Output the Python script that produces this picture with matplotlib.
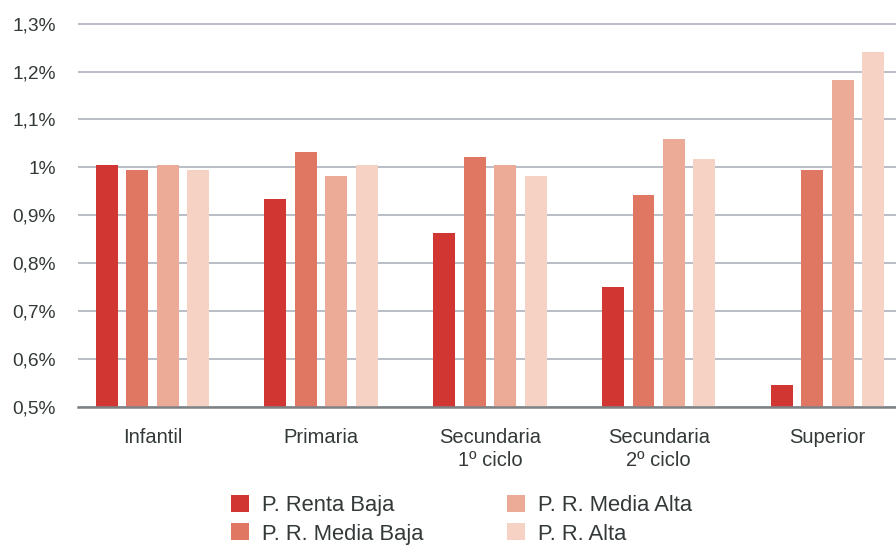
import matplotlib

matplotlib.use("Agg")
import matplotlib.pyplot as plt
from matplotlib.patches import Patch

# data
categories = ["Infantil", "Primaria", "Secundaria\n1º ciclo", "Secundaria\n2º ciclo", "Superior"]
series_names = ["P. Renta Baja", "P. R. Media Baja", "P. R. Media Alta", "P. R. Alta"]
renta_baja = [1.004, 0.933, 0.864, 0.751, 0.546]
media_baja = [0.994, 1.033, 1.021, 0.942, 0.994]
media_alta = [1.004, 0.981, 1.004, 1.060, 1.183]
alta = [0.994, 1.004, 0.981, 1.017, 1.241]
y_ticks = [0.5, 0.6, 0.7, 0.8, 0.9, 1.0, 1.1, 1.2, 1.3]
y_tick_labels = ["0,5%", "0,6%", "0,7%", "0,8%", "0,9%", "1%", "1,1%", "1,2%", "1,3%"]

colors = ["#d13632", "#df7763", "#ecab97", "#f5d2c4"]
text_color = "#333838"

plt.rcParams["font.family"] = ["Liberation Sans", "DejaVu Sans"]

fig = plt.figure(figsize=(8.96, 5.46), dpi=100)
ax = fig.add_axes([78 / 896, 1 - 407 / 546, 1 - 78 / 896, (407 - 14) / 546])

step = 0.1807
width = 0.130
all_series = [renta_baja, media_baja, media_alta, alta]
for i, (vals, c) in enumerate(zip(all_series, colors)):
    xs = [g + (i - 1.5) * step for g in range(len(categories))]
    ax.bar(xs, vals, width=width, color=c, zorder=3)

ax.set_ylim(0.5, 1.32)
ax.set_xlim(-0.441, 4.406)
ax.set_yticks(y_ticks)
ax.set_yticklabels(y_tick_labels)
ax.set_xticks(range(len(categories)))
ax.set_xticklabels(categories, linespacing=1.3)
ax.tick_params(axis="y", length=0, pad=16, labelsize=13.8, labelcolor=text_color)
ax.tick_params(axis="x", length=0, pad=15, labelsize=14.5, labelcolor=text_color)

ax.grid(axis="y", color="#b9bec6", lw=1.4, zorder=0)
for side in ["left", "right", "top"]:
    ax.spines[side].set_visible(False)
ax.spines["bottom"].set_color("#7d8287")
ax.spines["bottom"].set_linewidth(1.8)
ax.spines["bottom"].set_zorder(4)

handles = [Patch(facecolor=c, edgecolor="none") for c in colors]
fig.legend(
    handles,
    series_names,
    loc="upper left",
    bbox_to_anchor=(231 / 896, 1 - 495 / 546),
    ncol=2,
    frameon=False,
    fontsize=15.8,
    labelcolor=text_color,
    handlelength=0.82,
    handleheight=0.82,
    handletextpad=0.6,
    columnspacing=3.8,
    labelspacing=0.33,
    borderpad=0,
    borderaxespad=0,
)

fig.savefig("out.png", dpi=100)
